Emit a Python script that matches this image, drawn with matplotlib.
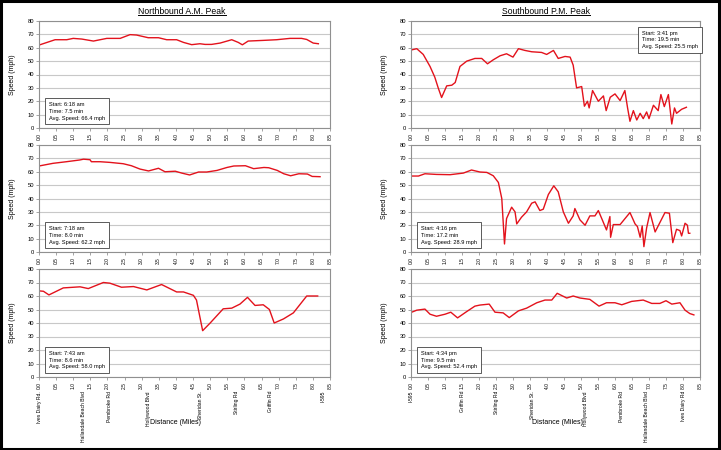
import matplotlib
matplotlib.use("Agg")
import matplotlib.pyplot as plt
import matplotlib.transforms as mtransforms
from matplotlib.patches import Rectangle
from matplotlib import font_manager

# ── Fonts ────────────────────────────────────────────────────────────────────
names = {f.name for f in font_manager.fontManager.ttflist}
NARROW = "Liberation Sans Narrow" in names
plt.rcParams["font.family"] = ["Liberation Sans Narrow"] if NARROW else ["Liberation Sans", "DejaVu Sans"]
K = 1.0 if NARROW else 0.82

# ── Data: Northbound A.M. Peak ───────────────────────────────────────────────
nb1_mi = [0.0, 0.47, 0.81, 1.0, 1.25, 1.59, 1.98, 2.37, 2.66, 2.85, 3.19, 3.49, 3.73, 4.02,
          4.22, 4.46, 4.7, 4.85, 5.04, 5.29, 5.63, 5.82, 5.94, 6.11, 6.55, 6.94, 7.33, 7.67,
          7.82, 8.01, 8.16]
nb1_mph = [62, 66, 66, 67, 66.5, 65, 67, 67, 69.8, 69.5, 67.5, 67.5, 66, 66,
           64, 62.3, 63, 62.5, 62.5, 63.5, 66, 64, 62.2, 65, 65.5, 66, 67, 67,
           66.2, 63.5, 63]

nb2_mi = [0.0, 0.41, 0.8, 1.19, 1.3, 1.49, 1.53, 1.78, 2.07, 2.46, 2.7, 2.95, 3.2, 3.49,
          3.68, 3.98, 4.17, 4.4, 4.66, 4.9, 5.2, 5.49, 5.69, 6.03, 6.27, 6.57, 6.71, 6.96,
          7.15, 7.35, 7.59, 7.84, 7.98, 8.21]
nb2_mph = [64.3, 66.3, 67.5, 68.8, 69.4, 69.0, 67.5, 67.5, 67, 66, 64.5, 62, 60.6, 62.6,
           60, 60.4, 59, 57.6, 59.8, 59.8, 61, 63.2, 64.3, 64.5, 62.3, 63.2, 63, 61,
           58.5, 57, 58.5, 58.3, 56.5, 56.3]

nb3_mi = [0.0, 0.13, 0.29, 0.71, 1.2, 1.44, 1.88, 2.07, 2.41, 2.76, 3.15, 3.58, 4.02, 4.22,
          4.51, 4.6, 4.78, 5.0, 5.38, 5.63, 5.87, 6.09, 6.31, 6.55, 6.73, 6.87, 7.14, 7.43,
          7.82, 8.14]
nb3_mph = [63.8, 63.5, 60.8, 66, 66.8, 65.5, 70, 69.5, 66.5, 67, 64.5, 68.5, 63, 63,
           60.5, 57, 34.3, 40, 50.5, 51, 54, 59, 53, 53.5, 50, 40, 43, 47.5,
           60, 60]

# ── Data: Southbound P.M. Peak ───────────────────────────────────────────────
sb1_mi = [0.0, 0.17, 0.36, 0.56, 0.7, 0.8, 0.9, 1.05, 1.2, 1.3, 1.44, 1.64, 1.88, 2.08,
          2.25, 2.42, 2.62, 2.81, 3.0, 3.16, 3.35, 3.55, 3.84, 3.99, 4.19, 4.33, 4.53, 4.68,
          4.77, 4.87, 5.02, 5.1, 5.19, 5.24, 5.34, 5.51, 5.66, 5.74, 5.86, 6.0, 6.15, 6.29,
          6.37, 6.44, 6.54, 6.64, 6.74, 6.83, 6.93, 7.0, 7.13, 7.27, 7.35, 7.45, 7.57, 7.67,
          7.75, 7.81, 7.96, 8.1]
sb1_mph = [58.3, 59.3, 55, 46, 38, 30, 22.8, 31.5, 32, 34, 46, 50, 52, 52,
           48, 51, 54, 55.5, 53, 59.3, 58, 57, 56.5, 55, 58, 52, 53.5, 53,
           47, 30, 31, 16.3, 20, 15, 28, 20, 24, 13, 23, 25.5, 20.5, 28,
           15, 5, 13, 6, 11, 7, 12, 7, 17, 13, 25, 16, 25, 3,
           15, 11, 14, 15.5]

sb2_mi = [0.0, 0.22, 0.41, 0.75, 1.15, 1.54, 1.78, 2.03, 2.23, 2.42, 2.57, 2.67, 2.75, 2.81,
          2.96, 3.06, 3.11, 3.25, 3.4, 3.55, 3.65, 3.79, 3.89, 4.04, 4.2, 4.33, 4.48, 4.63,
          4.77, 4.82, 4.97, 5.12, 5.26, 5.41, 5.51, 5.61, 5.75, 5.85, 5.87, 5.95, 6.15, 6.44,
          6.59, 6.66, 6.74, 6.8, 6.85, 6.93, 7.03, 7.18, 7.47, 7.6, 7.7, 7.81, 7.91, 7.96,
          8.06, 8.13, 8.16, 8.2]
sb2_mph = [56.8, 56.8, 58.5, 58, 57.8, 59, 61.3, 59.8, 59.5, 57, 52, 40, 6, 25,
           33.5, 30, 21, 26, 30, 36.5, 37.5, 31, 32, 43, 49.5, 45, 30, 21.5,
           27, 32.5, 24, 20, 27, 27, 31, 25, 16.5, 26.5, 11, 20.5, 20.5, 29.5,
           21, 19, 11, 19.5, 4, 18, 29.5, 15, 29.5, 29, 7, 17, 16, 12,
           21.5, 20, 14, 14]

sb3_mi = [0.0, 0.17, 0.41, 0.56, 0.75, 1.0, 1.17, 1.37, 1.64, 1.88, 2.03, 2.3, 2.47, 2.71,
          2.89, 3.16, 3.4, 3.7, 3.94, 4.14, 4.3, 4.58, 4.77, 4.97, 5.26, 5.53, 5.75, 6.0,
          6.2, 6.49, 6.83, 7.08, 7.32, 7.5, 7.67, 7.91, 8.06, 8.2, 8.32]
sb3_mph = [47.8, 49.5, 50.3, 46.5, 45, 46.5, 48, 43.8, 48.5, 52.5, 53.3, 54, 48, 47.5,
           44, 49, 51, 55, 57, 57, 62, 58.5, 60, 58.5, 57.5, 52.5, 55, 55,
           53.5, 56, 57, 54.5, 54.5, 56.5, 54, 55, 49.5, 47, 46]

nb_info = ["Start: 6:18 am\nTime: 7.5 min\nAvg. Speed: 66.4 mph",
           "Start: 7:18 am\nTime: 8.0 min\nAvg. Speed: 62.2 mph",
           "Start: 7:43 am\nTime: 8.6 min\nAvg. Speed: 58.0 mph"]
sb_info = ["Start: 3:41 pm\nTime: 19.5 min\nAvg. Speed: 25.5 mph",
           "Start: 4:16 pm\nTime: 17.2 min\nAvg. Speed: 28.9 mph",
           "Start: 4:34 pm\nTime: 9.5 min\nAvg. Speed: 52.4 mph"]

nb_streets = ["Ives Dairy Rd.", "Hallandale Beach Blvd", "Pembroke Rd", "Hollywood Blvd",
              "Sheridan St.", "Stirling Rd", "Griffin Rd", "I-595"]
nb_street_mi = [0.0, 1.29, 2.06, 3.21, 4.71, 5.78, 6.75, 8.31]
sb_streets = ["I-595", "Griffin Rd", "Stirling Rd", "Sheridan St.", "Hollywood Blvd",
              "Pembroke Rd", "Hallandale Beach Blvd", "Ives Dairy Rd"]
sb_street_mi = [0.0, 1.5, 2.51, 3.56, 5.14, 6.2, 6.93, 8.01]

x_ticks = [i * 0.5 for i in range(18)]
y_ticks = list(range(0, 90, 10))

# ── Layout (pixels of a 721x450 canvas) ──────────────────────────────────────
W, H = 721, 450
cols = [(39, 330), (411, 700)]
rows = [(21, 128), (145, 252), (269, 377)]
RED = "#e3121c"

fig = plt.figure(figsize=(W / 100, H / 100), dpi=100)


def make_ax(col, row):
    x0, x1 = cols[col]
    y0, y1 = rows[row]
    return fig.add_axes([x0 / W, 1 - y1 / H, (x1 - x0) / W, (y1 - y0) / H])


def style(ax):
    ax.set_xlim(0, 8.5)
    ax.set_ylim(0, 80)
    ax.set_xticks(x_ticks)
    ax.set_xticklabels([f"{t:.1f}" for t in x_ticks], rotation=90, fontsize=4.3 * K)
    ax.set_yticks(y_ticks)
    ax.set_yticklabels([str(t) for t in y_ticks], fontsize=5.2 * K)
    ax.tick_params(length=2, width=0.5, color="#808080", pad=1.5)
    ax.yaxis.grid(True, color="#c8c8c8", lw=0.8)
    ax.set_axisbelow(True)
    for s in ax.spines.values():
        s.set_color("#909090")
        s.set_linewidth(0.8)
    ax.set_ylabel("Speed (mph)", fontsize=6.2 * K, labelpad=8)


def info_box(ax, text, x, y, ha, va):
    ax.text(x, y, text, transform=ax.transAxes, ha=ha, va=va, fontsize=5.0 * K,
            linespacing=1.45,
            bbox=dict(boxstyle="square,pad=0.7", fc="white", ec="#404040", lw=0.6))


nb_data = [(nb1_mi, nb1_mph), (nb2_mi, nb2_mph), (nb3_mi, nb3_mph)]
sb_data = [(sb1_mi, sb1_mph), (sb2_mi, sb2_mph), (sb3_mi, sb3_mph)]

bottom_axes = []
for r in range(3):
    ax = make_ax(0, r)
    ax.plot(*nb_data[r], color=RED, lw=1.0)
    style(ax)
    info_box(ax, nb_info[r], 0.034, 0.07, "left", "bottom")
    ax_l = ax

    ax = make_ax(1, r)
    ax.plot(*sb_data[r], color=RED, lw=1.0)
    style(ax)
    if r == 0:
        info_box(ax, sb_info[r], 0.80, 0.91, "left", "top")
    else:
        info_box(ax, sb_info[r], 0.034, 0.07, "left", "bottom")
    if r == 2:
        bottom_axes = [ax_l, ax]

# ── Street names under the bottom charts ─────────────────────────────────────
for a, streets, miles in [(bottom_axes[0], nb_streets, nb_street_mi),
                          (bottom_axes[1], sb_streets, sb_street_mi)]:
    tr = mtransforms.blended_transform_factory(a.transData, fig.transFigure)
    for n, m in zip(streets, miles):
        a.text(m, 1 - 391 / H, n, transform=tr, rotation=90, ha="center", va="top",
               fontsize=4.4 * K, clip_on=False)

# ── Titles and axis titles ───────────────────────────────────────────────────
fig.text(182 / W, 1 - 11 / H, "Northbound A.M. Peak", ha="center", va="center", fontsize=7.6 * K)
fig.text(546 / W, 1 - 11 / H, "Southbound P.M. Peak", ha="center", va="center", fontsize=7.6 * K)
fig.text(176 / W, 1 - 423 / H, "Distance (Miles)", ha="center", va="center", fontsize=6.2 * K)
fig.text(557 / W, 1 - 423 / H, "Distance (Miles)", ha="center", va="center", fontsize=6.2 * K)

# underline titles
fig.canvas.draw()
for t in fig.texts[:2]:
    bb = t.get_window_extent()
    yy = (bb.y0 + 0.3) / H
    fig.add_artist(plt.Line2D([bb.x0 / W, bb.x1 / W], [yy, yy],
                              transform=fig.transFigure, color="black", lw=0.7))

# outer frame
fig.add_artist(Rectangle((0.001, 0.003), 0.996, 0.995, transform=fig.transFigure,
                         fill=False, ec="black", lw=2.2))

fig.savefig("out.png", dpi=100)
